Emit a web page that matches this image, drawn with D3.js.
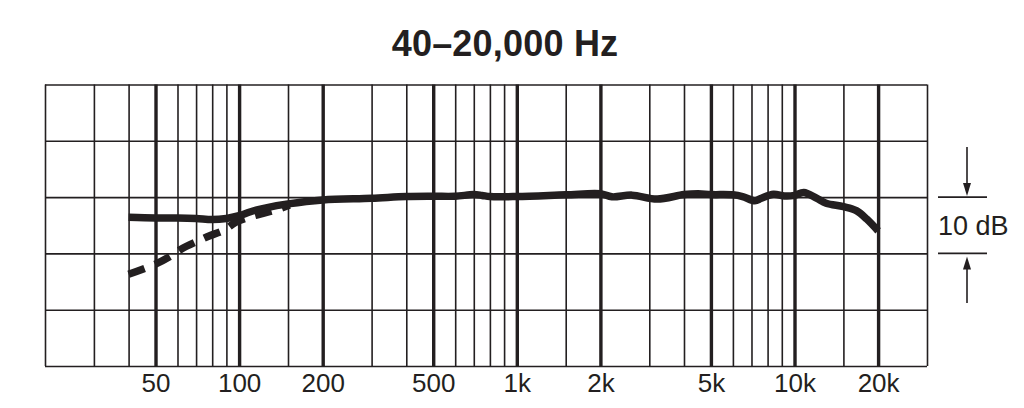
<!DOCTYPE html>
<meta charset="utf-8">

<style>

body {
  margin: 0;
  background: #fff;
}

svg.chart {
  background: #fff;
}

svg.chart text {
  font-family: "Liberation Sans", Arial, sans-serif;
  fill: #231f20;
}

svg.chart .grid line {
  stroke: #231f20;
}

svg.chart .grid .domain {
  display: none;
}

svg.chart .axis .domain,
svg.chart .axis line {
  display: none;
}

svg.chart .axis text {
  font-size: 26px;
}

svg.chart .title {
  font-size: 36px;
  font-weight: bold;
  letter-spacing: 0.2px;
  text-anchor: middle;
}

svg.chart .response {
  fill: none;
  stroke: #231f20;
  stroke-width: 7.5;
  stroke-linejoin: round;
}

svg.chart .response.proximity {
  stroke-dasharray: 17 11;
}

</style>


<div>
  <svg class="chart" width="1024" height="408"></svg>
</div>


<script src="https://d3js.org/d3.v7.min.js"></script>

<script>

// frequency ticks
var majorFreqs = [50, 100, 200, 500, 1000, 2000, 5000, 10000, 20000];
var majorLabels = ["50", "100", "200", "500", "1k", "2k", "5k", "10k", "20k"];
var minorFreqs = [20, 30, 40, 60, 70, 80, 90, 150, 300, 400, 600, 700, 800, 900,
                  1500, 3000, 4000, 6000, 7000, 8000, 9000, 15000, 30000];
var dbTicks = [-30, -20, -10, 0, 10, 20];

// solid response (dB)
var solidFreq = [40, 50, 60, 70, 80, 90, 100, 110, 125, 150, 200, 300, 400, 500, 600,
                 700, 750, 800, 1000, 1500, 2000, 2200, 2600, 3200, 4000, 4500, 5000,
                 6000, 6500, 7200, 7600, 8400, 9200, 10000, 10800, 12000, 13000,
                 15000, 16700, 18200, 20000];
var solidDb = [-3.6, -3.7, -3.7, -3.8, -4.0, -3.8, -3.3, -2.6, -1.9, -1.2, -0.5, -0.2,
               0.1, 0.15, 0.15, 0.45, 0.3, 0.1, 0.1, 0.4, 0.6, 0.05, 0.35, -0.35, 0.45,
               0.6, 0.45, 0.4, 0.1, -0.65, -0.2, 0.5, 0.2, 0.3, 0.8, -0.2, -1.1, -1.7,
               -2.4, -3.9, -6.0];

// dashed (proximity) response (dB)
var dashFreq = [40, 50, 57, 62, 71, 78, 88, 97, 110, 122, 137, 152];
var dashDb = [-13.7, -11.9, -10.4, -9.2, -7.8, -6.9, -5.9, -4.5, -3.5, -2.9, -2.2, -1.4];

var svg = d3.select("svg.chart");
var plot = {left: 45, right: 927, top: 84.5, bottom: 366};

var xScale = d3.scaleLog()
  .domain([20, 30000])
  .range([plot.left, plot.right]);

var yScale = d3.scaleLinear()
  .domain([-30, 20])
  .range([plot.bottom, plot.top]);

var height = plot.bottom - plot.top;
var width = plot.right - plot.left;

// Title
svg.append("text")
  .attr("class", "title")
  .attr("x", 505)
  .attr("y", 56)
  .text("40–20,000 Hz");

// Grid
svg.append("g")
  .attr("class", "grid")
  .attr("transform", `translate(0,${plot.bottom})`)
  .call(d3.axisBottom(xScale).tickValues(minorFreqs).tickSize(-height).tickFormat(""))
  .selectAll("line")
    .attr("stroke-width", 1.6);

svg.append("g")
  .attr("class", "grid")
  .attr("transform", `translate(0,${plot.bottom})`)
  .call(d3.axisBottom(xScale).tickValues(majorFreqs).tickSize(-height).tickFormat(""))
  .selectAll("line")
    .attr("stroke-width", 3.4);

svg.append("g")
  .attr("class", "grid")
  .attr("transform", `translate(${plot.left},0)`)
  .call(d3.axisLeft(yScale).tickValues(dbTicks).tickSize(-width).tickFormat(""))
  .selectAll("line")
    .attr("stroke-width", 1.6);

// Frequency labels
svg.append("g")
  .attr("class", "axis")
  .attr("transform", `translate(0,${plot.bottom})`)
  .call(d3.axisBottom(xScale)
    .tickValues(majorFreqs)
    .tickSize(0)
    .tickPadding(7)
    .tickFormat(function(d, i) { return majorLabels[i]; }))
  .selectAll("text")
    .attr("dy", "0.71em")
    .attr("y", 7.5);

// Curves
var line = d3.line()
  .x(function(d) { return xScale(d[0]); })
  .y(function(d) { return yScale(d[1]); })
  .curve(d3.curveCatmullRom.alpha(0.5));

svg.append("path")
  .attr("class", "response proximity")
  .attr("d", line(d3.zip(dashFreq, dashDb)));

svg.append("path")
  .attr("class", "response")
  .attr("d", line(d3.zip(solidFreq, solidDb)));

// 10 dB scale marker
var marker = svg.append("g")
  .attr("class", "marker")
  .attr("stroke", "#231f20")
  .attr("stroke-width", 1.6);

[0, -10].forEach(function(db) {
  marker.append("line")
    .attr("x1", 938).attr("x2", 987)
    .attr("y1", yScale(db)).attr("y2", yScale(db));
});

var ax = 967;
marker.append("line")
  .attr("x1", ax).attr("x2", ax)
  .attr("y1", 147).attr("y2", yScale(0) - 8);
marker.append("path")
  .attr("stroke", "none")
  .attr("fill", "#231f20")
  .attr("d", `M${ax - 4},${yScale(0) - 14}L${ax + 4},${yScale(0) - 14}L${ax},${yScale(0) - 1}Z`);

marker.append("line")
  .attr("x1", ax).attr("x2", ax)
  .attr("y1", yScale(-10) + 8).attr("y2", 303);
marker.append("path")
  .attr("stroke", "none")
  .attr("fill", "#231f20")
  .attr("d", `M${ax - 4},${yScale(-10) + 16}L${ax + 4},${yScale(-10) + 16}L${ax},${yScale(-10) + 3}Z`);

svg.append("text")
  .attr("x", 938)
  .attr("y", 235)
  .style("font-size", "27px")
  .text("10 dB");

</script>
